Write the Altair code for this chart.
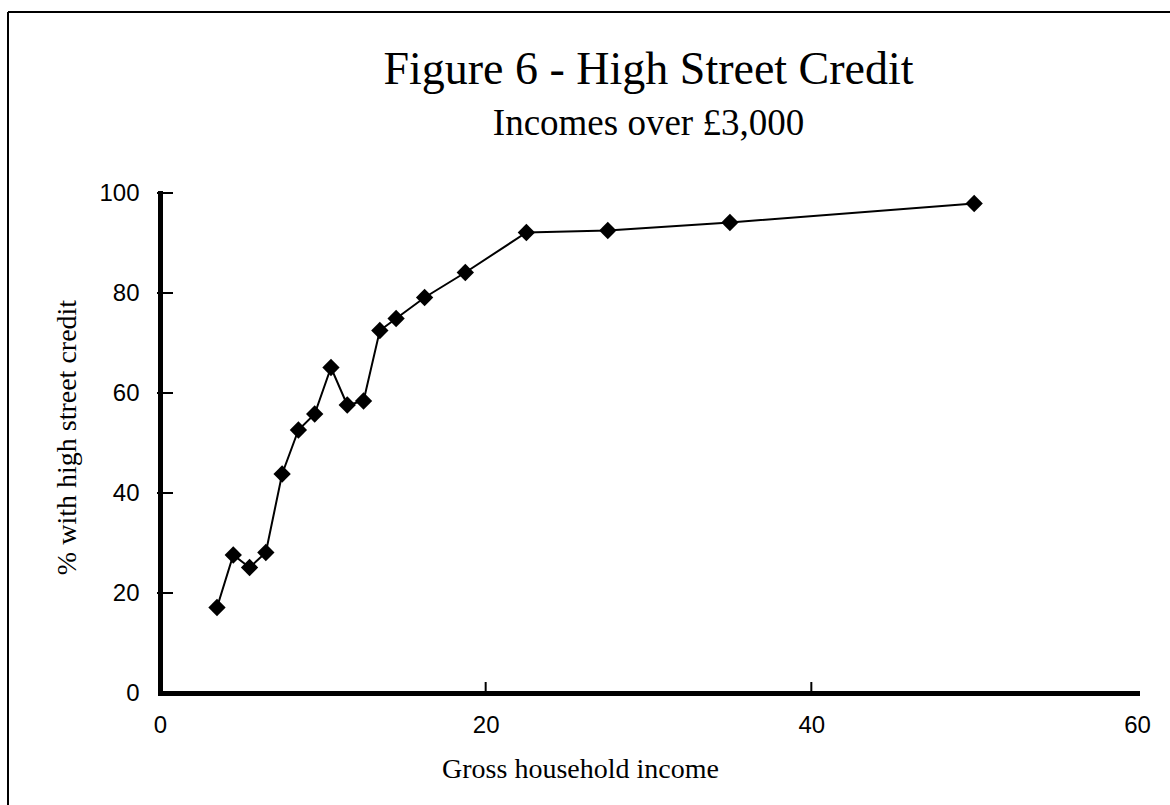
import altair as alt
import pandas as pd

# Income band midpoints (£000s) and share of households with high street credit (%)
income = [3.5, 4.5, 5.5, 6.5, 7.5, 8.5, 9.5, 10.5, 11.5, 12.5, 13.5, 14.5,
          16.25, 18.75, 22.5, 27.5, 35, 50]
pct_credit = [17.1, 27.6, 25.1, 28.1, 43.8, 52.6, 55.8, 65.1, 57.6, 58.4, 72.5,
              74.9, 79.1, 84.1, 92.1, 92.5, 94.1, 97.9]

x_ticks = [0, 20, 40, 60]
y_ticks = [0, 20, 40, 60, 80, 100]
x_inner_ticks = [0, 20, 40]
y_inner_ticks = [20, 40, 60, 80, 100]

df = pd.DataFrame({"income": income, "pct": pct_credit})
xt = pd.DataFrame({"income": x_inner_ticks})
yt = pd.DataFrame({"pct": y_inner_ticks})

PLOT_W, PLOT_H = 977, 500
PAD_L, PAD_T = 160, 193

SERIF = "Liberation Serif"
SANS = "Liberation Sans"

x_scale = alt.Scale(domain=[0, 60], nice=False, zero=False)
y_scale = alt.Scale(domain=[0, 100], nice=False)

x_axis = alt.Axis(
    values=x_ticks, title="Gross household income", grid=False,
    ticks=False, tickSize=0, labelPadding=20, labelFontSize=24,
    labelFont=SANS, labelColor="black", labelFlush=False,
    domainColor="black", domainWidth=5, domainCap="square",
    titleFont=SERIF, titleFontSize=28, titleFontWeight="normal",
    titleColor="black", titleX=420, titleY=84,
    titleBaseline="alphabetic", titleAlign="center",
)
y_axis = alt.Axis(
    values=y_ticks, title="% with high street credit", grid=False,
    ticks=False, tickSize=0, labelPadding=21, labelFontSize=24,
    labelFont=SANS, labelColor="black", labelFlush=False,
    domainColor="black", domainWidth=5, domainCap="square",
    titleFont=SERIF, titleFontSize=28, titleFontWeight="normal",
    titleColor="black", titleX=-93, titleY=244,
    titleBaseline="middle", titleAlign="center", titleAngle=270,
)

X = alt.X("income:Q", scale=x_scale, axis=x_axis)
Y = alt.Y("pct:Q", scale=y_scale, axis=y_axis)

line = alt.Chart(df).mark_line(color="black", strokeWidth=2).encode(x=X, y=Y)

points = alt.Chart(df).mark_point(
    shape="diamond", filled=True, size=300, color="black", opacity=1
).encode(x=X, y=Y)

# Short inward-pointing tick marks on both axes
x_tick_marks = alt.Chart(xt).mark_rule(color="black", strokeWidth=2).encode(
    x=X, y=alt.value(PLOT_H - 11), y2=alt.value(PLOT_H),
)
y_tick_marks = alt.Chart(yt).mark_rule(color="black", strokeWidth=2).encode(
    y=Y, x=alt.value(-3), x2=alt.value(13),
)

# Frame lines along the top and left edges of the page
frame_top = alt.Chart(df).mark_rule(color="black", strokeWidth=1.5).encode(
    x=alt.value(8 - PAD_L), x2=alt.value(1170 - PAD_L), y=alt.value(12 - PAD_T)
)
frame_left = alt.Chart(df).mark_rule(color="black", strokeWidth=1.5).encode(
    x=alt.value(8 - PAD_L), y=alt.value(12 - PAD_T), y2=alt.value(805 - PAD_T)
)

chart = alt.layer(
    line, points, x_tick_marks, y_tick_marks, frame_top, frame_left
).properties(
    width=PLOT_W,
    height=PLOT_H,
    autosize=alt.AutoSizeParams(type="none"),
    padding={"left": PAD_L, "top": PAD_T,
             "right": 1170 - PAD_L - PLOT_W, "bottom": 805 - PAD_T - PLOT_H},
    title=alt.TitleParams(
        text="Figure 6 - High Street Credit",
        subtitle="Incomes over £3,000",
        font=SERIF, fontSize=46, fontWeight="normal", color="black",
        subtitleFont=SERIF, subtitleFontSize=37, subtitleColor="black",
        subtitlePadding=12, anchor="middle", offset=0, dy=132, frame="group",
    ),
).configure_view(stroke=None)

chart.save("out.html", embed_options={"renderer": "svg", "actions": False})
